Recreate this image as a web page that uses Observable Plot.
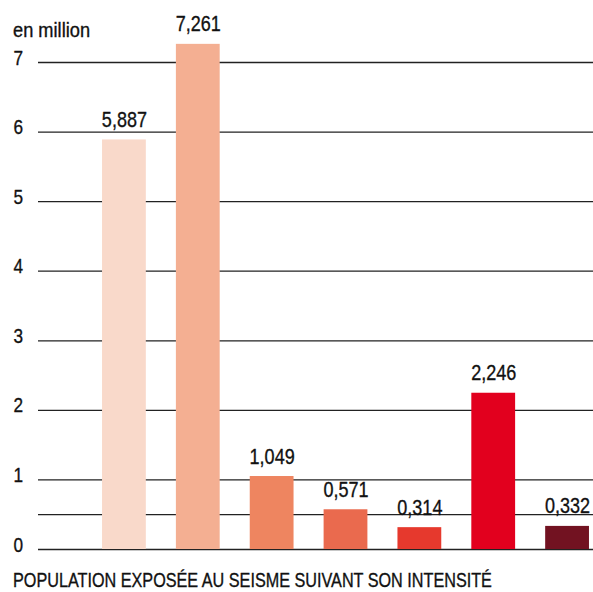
<!DOCTYPE html>
<html><head><meta charset="utf-8">
<script src="https://cdn.jsdelivr.net/npm/d3@7"></script>
<script src="https://cdn.jsdelivr.net/npm/@observablehq/plot@0.6"></script>
<style>
body{margin:0;background:#fff;}
#wrap{position:relative;width:593px;height:592px;font-family:"Liberation Sans",Arial,sans-serif;color:#111;}
.lbl{position:absolute;line-height:20px;white-space:nowrap;transform-origin:0 0;-webkit-text-stroke:0.35px #111;}
#unit{left:13px;top:20px;font-size:20.5px;transform:scaleX(0.89);}
#cap{left:13px;top:570px;font-size:20px;transform:scaleX(0.81);}
svg{position:absolute;left:0;top:0;}
</style>
</head><body>
<div id="wrap"><div id="unit" class="lbl">en million</div><div id="cap" class="lbl">POPULATION EXPOSÉE AU SEISME SUIVANT SON INTENSITÉ</div></div>
<script>
const categories = ["I1","I2","I3","I4","I5","I6","I7"];
const values = [5.887, 7.261, 1.049, 0.571, 0.314, 2.246, 0.332];
const labels = ["5,887","7,261","1,049","0,571","0,314","2,246","0,332"];
const colors = ["#F9D9CA","#F4AF92","#EE8560","#EA6A4E","#E6392D","#E2001E","#721221"];
const gridValues = [0, 0.5, 1, 2, 3, 4, 5, 6, 7];
const tickValues = [0, 1, 2, 3, 4, 5, 6, 7];

const data = categories.map((c,i)=>({cat:c, v:values[i], label:labels[i], color:colors[i]}));

const chart = Plot.plot({
  width: 593,
  height: 592,
  marginLeft: 38,
  marginRight: 0,
  marginTop: 0,
  marginBottom: 0,
  style: {fontFamily: '"Liberation Sans",Arial,sans-serif', background: "transparent"},
  x: {domain: categories, range: [87, 604], paddingInner: 0.407, paddingOuter: 0.2035, round: false, axis: null},
  y: {domain: [0, 7], range: [549, 62], axis: null},
  marks: [
    Plot.ruleY(gridValues, {stroke: "#222", strokeWidth: 1.3}),
    Plot.barY(data, {x: "cat", y: "v", fill: "color"}),
    Plot.text(data, {x: "cat", y: "v", text: "label", lineAnchor: "bottom", dy: -13, fontSize: 22, fill: "#111", stroke: "#111", strokeWidth: 0.35}),
    Plot.text(tickValues, {y: d => d, text: d => String(d), frameAnchor: "left", dx: -25, textAnchor: "start", lineAnchor: "bottom", dy: 2, fontSize: 21, fill: "#111", stroke: "#111", strokeWidth: 0.35})
  ]
});
document.getElementById("wrap").prepend(chart);
// condense the text horizontally around its anchor point
chart.querySelectorAll("text").forEach(t => {
  const x = +(t.getAttribute("x") || 0);
  const y = +(t.getAttribute("y") || 0);
  const tr = t.getAttribute("transform") || "";
  t.setAttribute("transform", `${tr} translate(${x},${y}) scale(0.82,1) translate(${-x},${-y})`.trim());
});
</script>
</body></html>
